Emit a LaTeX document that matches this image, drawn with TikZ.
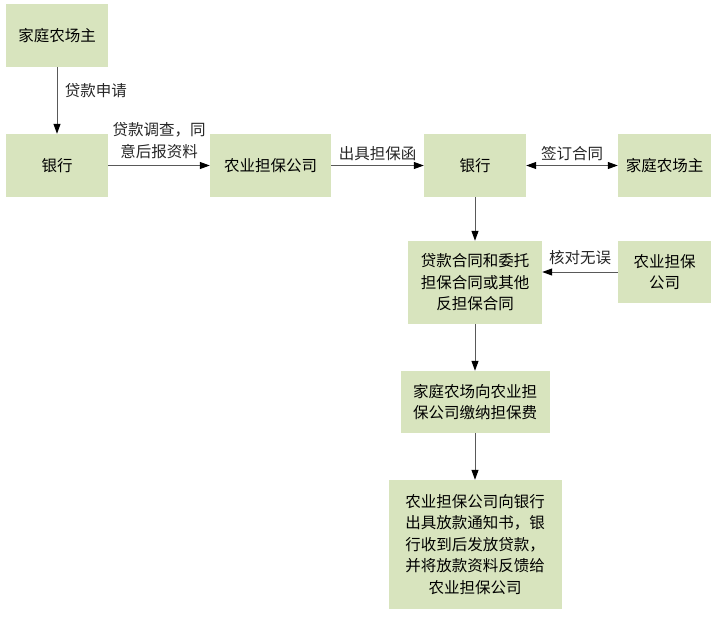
\documentclass[tikz,border=0pt]{standalone}
\usepackage{fontspec}
\setmainfont{Noto Sans CJK SC}
\usetikzlibrary{arrows.meta}
\usetikzlibrary{positioning}
\definecolor{boxgreen}{RGB}{216,228,190}

\begin{document}
\begin{tikzpicture}[x=1pt,y=-1pt,
    box/.style={fill=boxgreen,draw=none,align=center,inner sep=2pt,
      font=\fontsize{15.5}{21.5}\selectfont},
    arr/.style={draw=black!65,line width=1pt,-{Triangle[length=10pt,width=7pt,color=black]}},
    lbl/.style={font=\fontsize{15.5}{21.5}\selectfont,align=center,text=black!85}]

    % fix page size
    \useasboundingbox (0,0) rectangle (717,616);

    % draw boxes
    \node[box,minimum width=102pt,minimum height=63pt] (farmerA) at (57,35.5) {家庭农场主};
    \node[box,minimum width=102pt,minimum height=63pt] (bankA) at (57,165.5) {银行};
    \node[box,minimum width=121pt,minimum height=63pt] (guarA) at (270.5,165.5) {农业担保公司};
    \node[box,minimum width=102pt,minimum height=63pt] (bankB) at (475,165.5) {银行};
    \node[box,minimum width=93pt,minimum height=63pt] (farmerB) at (664.5,165.5) {家庭农场主};
    \node[box,minimum width=134pt,minimum height=83pt] (contract) at (475,282.5) {贷款合同和委托\\担保合同或其他\\反担保合同};
    \node[box,minimum width=93pt,minimum height=62pt] (guarB) at (664.5,272) {农业担保\\公司};
    \node[box,minimum width=149pt,minimum height=62pt] (fee) at (475,402) {家庭农场向农业担\\保公司缴纳担保费};
    \node[box,minimum width=173pt,minimum height=129pt] (loan) at (475,544.5) {农业担保公司向银行\\出具放款通知书，银\\行收到后发放贷款，\\并将放款资料反馈给\\农业担保公司};

    % draw arrows
    \draw[arr] (farmerA) -- node[lbl,pos=0.35,right=4pt] {贷款申请} (bankA);
    \draw[arr] (bankA) -- node[lbl,midway,above=3pt] {贷款调查，同\\意后报资料} (guarA);
    \draw[arr] (guarA) -- node[lbl,midway,above=1pt] {出具担保函} (bankB);
    \draw[arr,{Triangle[length=10pt,width=7pt,color=black]}-{Triangle[length=10pt,width=7pt,color=black]}] (bankB) -- node[lbl,midway,above=1pt] {签订合同} (farmerB);
    \draw[arr] (bankB) -- (contract);
    \draw[arr] (guarB.west) -- node[lbl,midway,above=3pt] {核对无误} (guarB.west -| contract.east);
    \draw[arr] (contract) -- (fee);
    \draw[arr] (fee) -- (loan);
\end{tikzpicture}
\end{document}
